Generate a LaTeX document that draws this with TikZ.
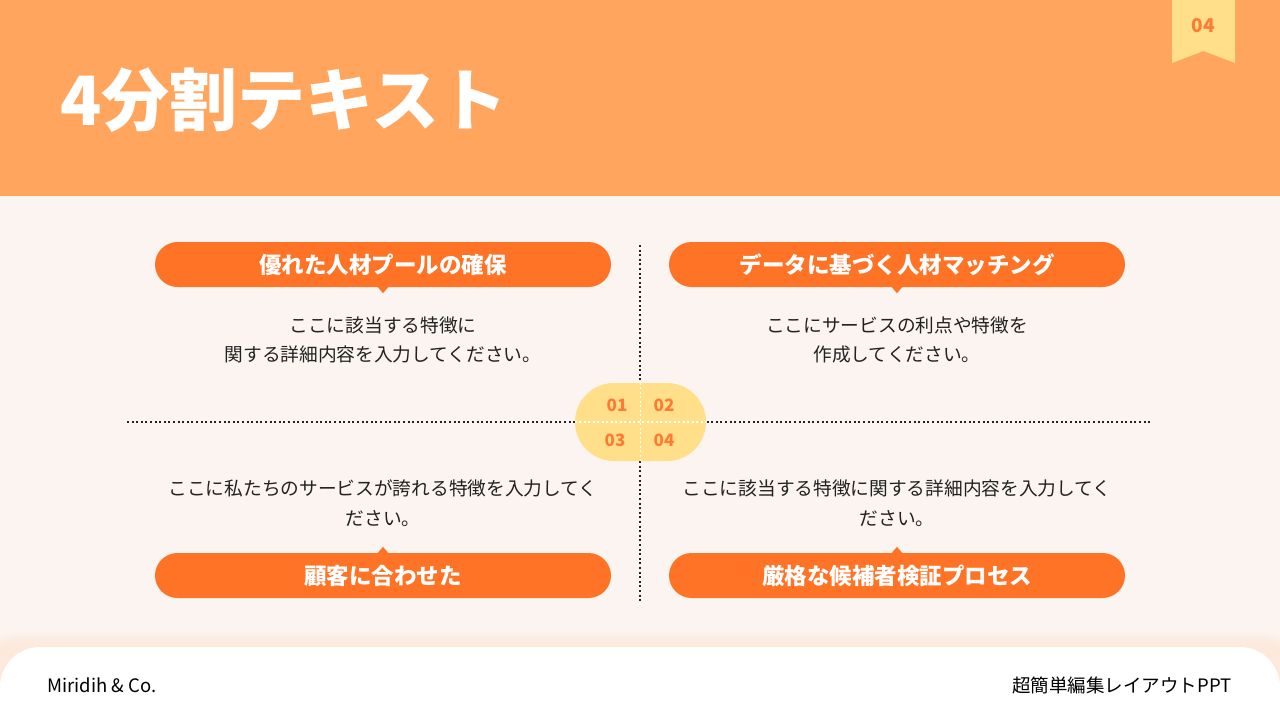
\documentclass[tikz,border=0pt]{standalone}
\usepackage{fontspec}
\setmainfont{Noto Sans CJK JP}
\usetikzlibrary{positioning}
\definecolor{band}{HTML}{FFA55D}
\definecolor{paper}{HTML}{FCF4F0}
\definecolor{ribbon}{HTML}{FFDF8A}
\definecolor{headc}{HTML}{FF7326}
\definecolor{num}{HTML}{FF7A33}
\definecolor{ink}{HTML}{222222}
\begin{document}
\begin{tikzpicture}[x=1pt,y=-1pt,
  head/.style={rectangle,rounded corners=22.5pt,fill=headc,text=white,minimum width=456pt,minimum height=45pt,inner sep=0pt,font=\fontsize{22.5}{26}\selectfont\bfseries},
  body/.style={align=center,text=ink,font=\fontsize{18.7}{29.5}\selectfont},
  numlab/.style={text=num,font=\fontsize{17}{20}\selectfont\bfseries},
  foot/.style={text=black,font=\fontsize{18.5}{22}\selectfont},
  dots/.style={draw=ink,line width=2pt,dash pattern=on 2pt off 2.6pt}]
\useasboundingbox (0,0) rectangle (1280,720);
\fill[paper] (0,0) rectangle (1280,720);
\fill[band] (0,0) rectangle (1280,196);
\fill[ribbon] (1172,0) -- (1235,0) -- (1235,63) -- (1203.5,51) -- (1172,63) -- cycle;
\node[text=num,font=\fontsize{19}{22}\selectfont\bfseries] (pg) at (1203.5,26) {04};
\node[anchor=west,text=white,inner sep=0pt,font=\fontsize{68}{76}\selectfont\bfseries] (title) at (60,100) {4分割テキスト};
% dividers
\coordinate (vt) at (640,245);
\coordinate (vb) at (640,602);
\coordinate (hl) at (127,422);
\coordinate (hr) at (1152,422);
\draw[dots] (vt) -- (vb);
\draw[dots] (hl) -- (hr);
\node[rectangle,rounded corners=39pt,fill=ribbon,minimum width=131pt,minimum height=78pt] (hub) at (640.5,422) {};
\draw[white,line width=1.2pt,dash pattern=on 2pt off 2.5pt] (hub.west) -- (hub.east);
\draw[white,line width=1.2pt,dash pattern=on 2pt off 2.5pt] (hub.north) -- (hub.south);
\node[numlab] (n1) at (617,405) {01};
\node[numlab] (n2) at (664,405) {02};
\node[numlab] (n3) at (615,440) {03};
\node[numlab] (n4) at (664,440) {04};
% headers
\node[head] (a) at (383,264.5) {優れた人材プールの確保};
\node[head] (b) at (897,264.5) {データに基づく人材マッチング};
\node[head] (c) at (383,575.5) {顧客に合わせた};
\node[head] (d) at (897,575.5) {厳格な候補者検証プロセス};
\fill[headc] ([xshift=-6pt,yshift=1pt]a.south) -- ([xshift=6pt,yshift=1pt]a.south) -- ([yshift=-6pt]a.south) -- cycle;
\fill[headc] ([xshift=-6pt,yshift=1pt]b.south) -- ([xshift=6pt,yshift=1pt]b.south) -- ([yshift=-6pt]b.south) -- cycle;
\fill[headc] ([xshift=-6pt,yshift=-1pt]c.north) -- ([xshift=6pt,yshift=-1pt]c.north) -- ([yshift=6pt]c.north) -- cycle;
\fill[headc] ([xshift=-6pt,yshift=-1pt]d.north) -- ([xshift=6pt,yshift=-1pt]d.north) -- ([yshift=6pt]d.north) -- cycle;
% texts
\node[body] (ta) at (383,340) {ここに該当する特徴に\\関する詳細内容を入力してください。};
\node[body] (tb) at (897,340) {ここにサービスの利点や特徴を\\作成してください。};
\node[body] (tc) at (383,503) {ここに私たちのサービスが誇れる特徴を入力してく\\ださい。};
\node[body] (td) at (897,503) {ここに該当する特徴に関する詳細内容を入力してく\\ださい。};
% footer
\foreach \i in {1,...,6}
  \fill[orange!12!paper,opacity=0.15,rounded corners=40pt] (-20,{647-2.5*\i}) rectangle (1300,780);
\fill[white,rounded corners=40pt] (0,647) rectangle (1280,780);
\node[anchor=west,foot] (co) at (44,685) {Miridih \& Co.};
\node[anchor=east,foot] (ppt) at (1235,685) {超簡単編集レイアウトPPT};
\end{tikzpicture}
\end{document}
